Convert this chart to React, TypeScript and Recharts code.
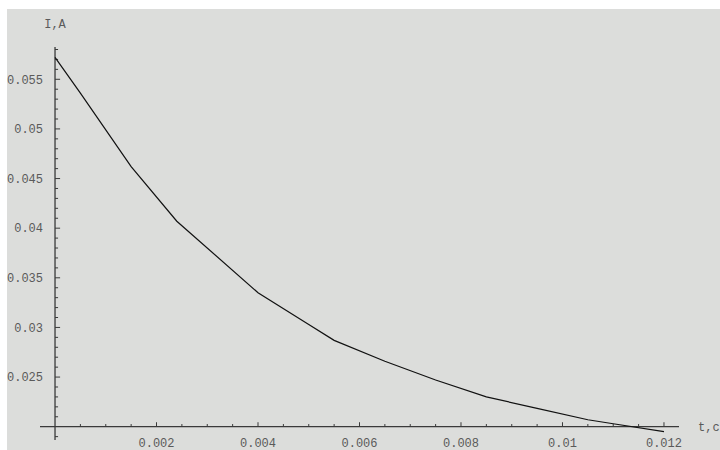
import { LineChart, Line, XAxis, YAxis, ReferenceLine } from 'recharts'

const tValues = [0, 0.0005, 0.0015, 0.0024, 0.004, 0.005, 0.0055, 0.0065, 0.0075, 0.0085, 0.0095, 0.0105, 0.011, 0.012]
const iValues = [0.0572, 0.0536, 0.0462, 0.0407, 0.0335, 0.0303, 0.0287, 0.0266, 0.0247, 0.023, 0.02185, 0.0207, 0.0203, 0.0195]

const xMajorTicks = [0.002, 0.004, 0.006, 0.008, 0.01, 0.012]
const xTickLabels = ['0.002', '0.004', '0.006', '0.008', '0.01', '0.012']
const yMajorTicks = [0.025, 0.03, 0.035, 0.04, 0.045, 0.05, 0.055]
const yTickLabels = ['0.025', '0.03', '0.035', '0.04', '0.045', '0.05', '0.055']

const xMinorStep = 0.0005
const yMinorStep = 0.001
const xOrigin = 0
const yOrigin = 0.02

const data = tValues.map((t, i) => ({ t, current: iValues[i] }))

const xMinorTicks: number[] = []
for (let k = 1; k * xMinorStep <= 0.0122; k++) {
  const v = Number((k * xMinorStep).toFixed(4))
  if (!xMajorTicks.some((m) => Math.abs(m - v) < 1e-9)) xMinorTicks.push(v)
}
const yMinorTicks: number[] = []
for (let k = 19; k <= 58; k++) {
  const v = Number((k * yMinorStep).toFixed(3))
  if (Math.abs(v - yOrigin) < 1e-9) continue
  if (!yMajorTicks.some((m) => Math.abs(m - v) < 1e-9)) yMinorTicks.push(v)
}

// tick mark lengths in data units
const xMajorLen = 0.00045
const xMinorLen = 0.00027
const yMajorLen = 0.0001
const yMinorLen = 0.00006

const axisColor = '#3a3a3a'
const labelColor = '#5a5a5a'
const font = '"Liberation Mono", "DejaVu Sans Mono", monospace'

export default function App() {
  return (
    <div style={{ position: 'absolute', left: 0, top: 0, width: 720, height: 450, overflow: 'hidden', background: '#fff' }}>
      <div style={{ position: 'absolute', left: 7, top: 9, right: 0, bottom: 0, background: '#dcdddb' }} />
      <div style={{ position: 'absolute', left: 0, top: 0, fontFamily: font }}>
        <LineChart width={720} height={450} data={data} margin={{ left: 40, right: 41, top: 47, bottom: 10 }}>
          <XAxis type="number" dataKey="t" domain={[-0.000296, 0.012296]} allowDataOverflow hide />
          <YAxis type="number" domain={[0.01866, 0.058253]} allowDataOverflow hide />
          <ReferenceLine
            y={yOrigin}
            stroke={axisColor}
            strokeWidth={1.3}
            label={{ value: 't,c', position: 'right', offset: 19, fill: labelColor, fontSize: 12, fontFamily: font }}
          />
          <ReferenceLine
            x={xOrigin}
            stroke={axisColor}
            strokeWidth={1.3}
            label={{ value: 'I,A', position: 'top', offset: 19, fill: labelColor, fontSize: 12, fontFamily: font }}
          />
          {xMinorTicks.map((v) => (
            <ReferenceLine key={`xm${v}`} segment={[{ x: v, y: yOrigin }, { x: v, y: yOrigin + xMinorLen }]} stroke={axisColor} />
          ))}
          {xMajorTicks.map((v, i) => (
            <ReferenceLine
              key={`xM${v}`}
              segment={[{ x: v, y: yOrigin }, { x: v, y: yOrigin + xMajorLen }]}
              stroke={axisColor}
              label={{ value: xTickLabels[i], position: 'bottom', offset: 12, fill: labelColor, fontSize: 12, fontFamily: font }}
            />
          ))}
          {yMinorTicks.map((v) => (
            <ReferenceLine key={`ym${v}`} segment={[{ x: xOrigin, y: v }, { x: xOrigin + yMinorLen, y: v }]} stroke={axisColor} />
          ))}
          {yMajorTicks.map((v, i) => (
            <ReferenceLine
              key={`yM${v}`}
              segment={[{ x: xOrigin, y: v }, { x: xOrigin + yMajorLen, y: v }]}
              stroke={axisColor}
              label={{ value: yTickLabels[i], position: 'left', offset: 12, fill: labelColor, fontSize: 12, fontFamily: font }}
            />
          ))}
          <Line type="linear" dataKey="current" stroke="#111" strokeWidth={1.2} dot={false} isAnimationActive={false} />
        </LineChart>
      </div>
    </div>
  )
}
